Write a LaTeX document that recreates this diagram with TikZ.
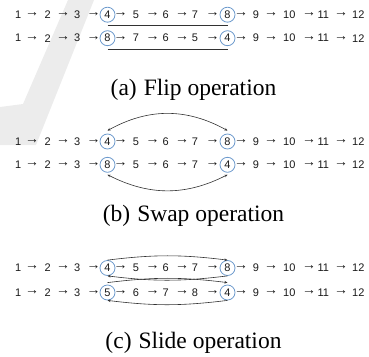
\documentclass[tikz,border=0pt]{standalone}
\usepackage{fontspec}
\usetikzlibrary{arrows.meta}
\newfontfamily\numfont{Liberation Sans}
\newfontfamily\capfont{Liberation Serif}
\definecolor{circblue}{RGB}{110,155,205}
\definecolor{txt}{RGB}{25,25,25}
\definecolor{arcgray}{RGB}{50,50,50}
\definecolor{wmgray}{RGB}{236,236,236}
\tikzset{
  num/.style={inner sep=0pt, text=txt, font=\numfont\fontsize{11}{13}\selectfont},
  arrglyph/.style={inner sep=0pt, text=txt, font=\numfont\fontsize{14}{16}\selectfont},
  circnode/.style={circle, draw=circblue, line width=0.8pt, minimum size=15pt, inner sep=0pt, text=txt, font=\numfont\fontsize{11}{13}\selectfont},
  uline/.style={draw=arcgray, line width=0.7pt},
  arcline/.style={draw=arcgray, line width=0.6pt},
  tip/.tip={Stealth[length=3pt,width=2.6pt]},
  caption/.style={anchor=base, inner sep=0pt, font=\capfont\fontsize{23.5}{27}\selectfont}
}
\newcommand\myrow[7]{%
  \node[num] (#1n1) at (18.3,#2) {1};
  \node[num] (#1n2) at (47.7,#2) {2};
  \node[num] (#1n3) at (77.3,#2) {3};
  \node[circnode] (#1c1) at (107.5,#2) {#3};
  \node[num] (#1n5) at (136,#2) {#4};
  \node[num] (#1n6) at (165.7,#2) {#5};
  \node[num] (#1n7) at (195,#2) {#6};
  \node[circnode] (#1c2) at (227.5,#2) {#7};
  \node[num] (#1n9) at (256,#2) {9};
  \node[num] (#1n10) at (289.3,#2) {10};
  \node[num] (#1n11) at (323.3,#2) {11};
  \node[num] (#1n12) at (358.3,#2) {12};
  \foreach \ax [count=\i] in {32,63,93.5,120.5,152.5,182,212.5,241,271,309,341}
    \node[arrglyph] (#1a\i) at (\ax,#2) {→};
}
\begin{document}
\begin{tikzpicture}[x=1pt,y=-1pt]
\useasboundingbox (0,0) rectangle (369,356);
% faint watermark
\fill[wmgray] (68,0) -- (94,0) -- (36,145) -- (0,145) -- (0,107) -- (23,104) -- cycle;

% (a) Flip
\myrow{aa}{14.7}{4}{5}{6}{7}{8}
\myrow{ab}{38.2}{8}{7}{6}{5}{4}
\draw[uline] ([yshift=-3pt]aac1.south) -- ([yshift=-3pt]aac2.south);
\draw[uline] ([yshift=-3pt]abc1.south) -- ([yshift=-3pt]abc2.south);
\node[caption] (capa) at (193.5,95) {(a)\hspace{7pt}Flip operation};

% (b) Swap
\myrow{ba}{141.5}{4}{5}{6}{7}{8}
\myrow{bb}{164.8}{8}{5}{6}{7}{4}
\draw[arcline, tip-tip] ([yshift=3pt]bac1.north) to[bend left=29] ([yshift=3pt]bac2.north);
\draw[arcline, tip-tip] ([yshift=-2pt]bbc1.south) to[bend right=27] ([yshift=-2pt]bbc2.south);
\node[caption] (capb) at (193.5,221) {(b)\hspace{7pt}Swap operation};

% (c) Slide
\myrow{ca}{268}{4}{5}{6}{7}{8}
\myrow{cb}{292.5}{5}{6}{7}{8}{4}
\draw[arcline, -tip] (cac1.north) to[bend left=7] (cac2.north);
\draw[arcline, -tip] (cac2.south) to[bend left=7] (cac1.south);
\draw[arcline, -tip] ([yshift=2pt]cbc1.north) to[bend left=7] ([yshift=2pt]cbc2.north);
\draw[arcline, -tip] (cbc2.south) to[bend left=7] (cbc1.south);
\node[caption] (capc) at (193.5,348) {(c)\hspace{7pt}Slide operation};
\end{tikzpicture}
\end{document}
